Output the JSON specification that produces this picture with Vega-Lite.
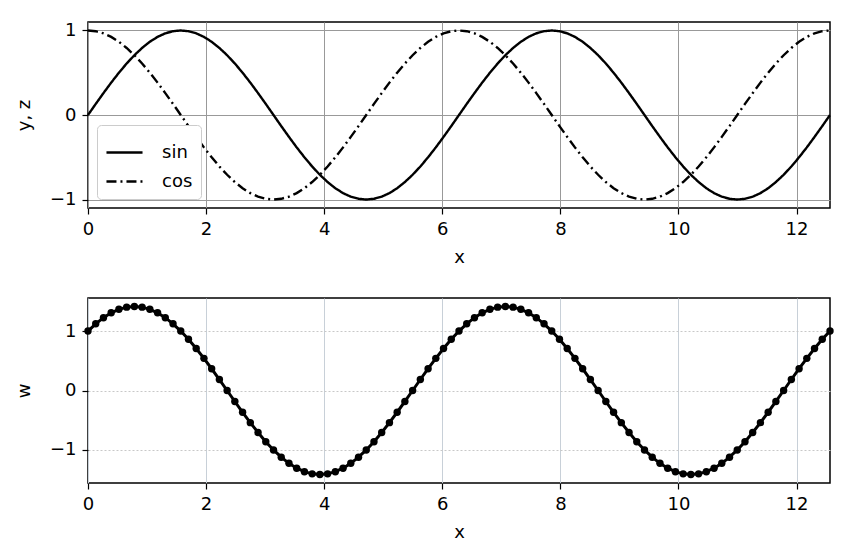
{
  "$schema": "https://vega.github.io/schema/vega-lite/v6.json",
  "description": "sin, cos and their sum over two periods",
  "background": "white",
  "padding": {"left": 14, "top": 20, "right": 5, "bottom": 5},
  "spacing": 30,
  "resolve": {"legend": {"strokeDash": "independent"}},
  "datasets": {
    "trig": [
      {"x": 0, "y": 0, "z": 1, "w": 1},
      {"x": 0.1309, "y": 0.131, "z": 0.991, "w": 1.122},
      {"x": 0.2618, "y": 0.259, "z": 0.966, "w": 1.225},
      {"x": 0.3927, "y": 0.383, "z": 0.924, "w": 1.307},
      {"x": 0.5236, "y": 0.5, "z": 0.866, "w": 1.366},
      {"x": 0.6545, "y": 0.609, "z": 0.793, "w": 1.402},
      {"x": 0.7854, "y": 0.707, "z": 0.707, "w": 1.414},
      {"x": 0.9163, "y": 0.793, "z": 0.609, "w": 1.402},
      {"x": 1.0472, "y": 0.866, "z": 0.5, "w": 1.366},
      {"x": 1.1781, "y": 0.924, "z": 0.383, "w": 1.307},
      {"x": 1.309, "y": 0.966, "z": 0.259, "w": 1.225},
      {"x": 1.4399, "y": 0.991, "z": 0.131, "w": 1.122},
      {"x": 1.5708, "y": 1, "z": 0, "w": 1},
      {"x": 1.7017, "y": 0.991, "z": -0.131, "w": 0.861},
      {"x": 1.8326, "y": 0.966, "z": -0.259, "w": 0.707},
      {"x": 1.9635, "y": 0.924, "z": -0.383, "w": 0.541},
      {"x": 2.0944, "y": 0.866, "z": -0.5, "w": 0.366},
      {"x": 2.2253, "y": 0.793, "z": -0.609, "w": 0.185},
      {"x": 2.3562, "y": 0.707, "z": -0.707, "w": 0},
      {"x": 2.4871, "y": 0.609, "z": -0.793, "w": -0.185},
      {"x": 2.618, "y": 0.5, "z": -0.866, "w": -0.366},
      {"x": 2.7489, "y": 0.383, "z": -0.924, "w": -0.541},
      {"x": 2.8798, "y": 0.259, "z": -0.966, "w": -0.707},
      {"x": 3.0107, "y": 0.131, "z": -0.991, "w": -0.861},
      {"x": 3.1416, "y": 0, "z": -1, "w": -1},
      {"x": 3.2725, "y": -0.131, "z": -0.991, "w": -1.122},
      {"x": 3.4034, "y": -0.259, "z": -0.966, "w": -1.225},
      {"x": 3.5343, "y": -0.383, "z": -0.924, "w": -1.307},
      {"x": 3.6652, "y": -0.5, "z": -0.866, "w": -1.366},
      {"x": 3.7961, "y": -0.609, "z": -0.793, "w": -1.402},
      {"x": 3.927, "y": -0.707, "z": -0.707, "w": -1.414},
      {"x": 4.0579, "y": -0.793, "z": -0.609, "w": -1.402},
      {"x": 4.1888, "y": -0.866, "z": -0.5, "w": -1.366},
      {"x": 4.3197, "y": -0.924, "z": -0.383, "w": -1.307},
      {"x": 4.4506, "y": -0.966, "z": -0.259, "w": -1.225},
      {"x": 4.5815, "y": -0.991, "z": -0.131, "w": -1.122},
      {"x": 4.7124, "y": -1, "z": 0, "w": -1},
      {"x": 4.8433, "y": -0.991, "z": 0.131, "w": -0.861},
      {"x": 4.9742, "y": -0.966, "z": 0.259, "w": -0.707},
      {"x": 5.1051, "y": -0.924, "z": 0.383, "w": -0.541},
      {"x": 5.236, "y": -0.866, "z": 0.5, "w": -0.366},
      {"x": 5.3669, "y": -0.793, "z": 0.609, "w": -0.185},
      {"x": 5.4978, "y": -0.707, "z": 0.707, "w": 0},
      {"x": 5.6287, "y": -0.609, "z": 0.793, "w": 0.185},
      {"x": 5.7596, "y": -0.5, "z": 0.866, "w": 0.366},
      {"x": 5.8905, "y": -0.383, "z": 0.924, "w": 0.541},
      {"x": 6.0214, "y": -0.259, "z": 0.966, "w": 0.707},
      {"x": 6.1523, "y": -0.131, "z": 0.991, "w": 0.861},
      {"x": 6.2832, "y": 0, "z": 1, "w": 1},
      {"x": 6.4141, "y": 0.131, "z": 0.991, "w": 1.122},
      {"x": 6.545, "y": 0.259, "z": 0.966, "w": 1.225},
      {"x": 6.6759, "y": 0.383, "z": 0.924, "w": 1.307},
      {"x": 6.8068, "y": 0.5, "z": 0.866, "w": 1.366},
      {"x": 6.9377, "y": 0.609, "z": 0.793, "w": 1.402},
      {"x": 7.0686, "y": 0.707, "z": 0.707, "w": 1.414},
      {"x": 7.1995, "y": 0.793, "z": 0.609, "w": 1.402},
      {"x": 7.3304, "y": 0.866, "z": 0.5, "w": 1.366},
      {"x": 7.4613, "y": 0.924, "z": 0.383, "w": 1.307},
      {"x": 7.5922, "y": 0.966, "z": 0.259, "w": 1.225},
      {"x": 7.7231, "y": 0.991, "z": 0.131, "w": 1.122},
      {"x": 7.854, "y": 1, "z": 0, "w": 1},
      {"x": 7.9849, "y": 0.991, "z": -0.131, "w": 0.861},
      {"x": 8.1158, "y": 0.966, "z": -0.259, "w": 0.707},
      {"x": 8.2467, "y": 0.924, "z": -0.383, "w": 0.541},
      {"x": 8.3776, "y": 0.866, "z": -0.5, "w": 0.366},
      {"x": 8.5085, "y": 0.793, "z": -0.609, "w": 0.185},
      {"x": 8.6394, "y": 0.707, "z": -0.707, "w": 0},
      {"x": 8.7703, "y": 0.609, "z": -0.793, "w": -0.185},
      {"x": 8.9012, "y": 0.5, "z": -0.866, "w": -0.366},
      {"x": 9.0321, "y": 0.383, "z": -0.924, "w": -0.541},
      {"x": 9.163, "y": 0.259, "z": -0.966, "w": -0.707},
      {"x": 9.2939, "y": 0.131, "z": -0.991, "w": -0.861},
      {"x": 9.4248, "y": 0, "z": -1, "w": -1},
      {"x": 9.5557, "y": -0.131, "z": -0.991, "w": -1.122},
      {"x": 9.6866, "y": -0.259, "z": -0.966, "w": -1.225},
      {"x": 9.8175, "y": -0.383, "z": -0.924, "w": -1.307},
      {"x": 9.9484, "y": -0.5, "z": -0.866, "w": -1.366},
      {"x": 10.0793, "y": -0.609, "z": -0.793, "w": -1.402},
      {"x": 10.2102, "y": -0.707, "z": -0.707, "w": -1.414},
      {"x": 10.3411, "y": -0.793, "z": -0.609, "w": -1.402},
      {"x": 10.472, "y": -0.866, "z": -0.5, "w": -1.366},
      {"x": 10.6029, "y": -0.924, "z": -0.383, "w": -1.307},
      {"x": 10.7338, "y": -0.966, "z": -0.259, "w": -1.225},
      {"x": 10.8647, "y": -0.991, "z": -0.131, "w": -1.122},
      {"x": 10.9956, "y": -1, "z": 0, "w": -1},
      {"x": 11.1265, "y": -0.991, "z": 0.131, "w": -0.861},
      {"x": 11.2574, "y": -0.966, "z": 0.259, "w": -0.707},
      {"x": 11.3883, "y": -0.924, "z": 0.383, "w": -0.541},
      {"x": 11.5192, "y": -0.866, "z": 0.5, "w": -0.366},
      {"x": 11.6501, "y": -0.793, "z": 0.609, "w": -0.185},
      {"x": 11.781, "y": -0.707, "z": 0.707, "w": 0},
      {"x": 11.9119, "y": -0.609, "z": 0.793, "w": 0.185},
      {"x": 12.0428, "y": -0.5, "z": 0.866, "w": 0.366},
      {"x": 12.1737, "y": -0.383, "z": 0.924, "w": 0.541},
      {"x": 12.3046, "y": -0.259, "z": 0.966, "w": 0.707},
      {"x": 12.4355, "y": -0.131, "z": 0.991, "w": 0.861},
      {"x": 12.5664, "y": 0, "z": 1, "w": 1}
    ]
  },
  "vconcat": [
    {
      "width": 742,
      "height": 186,
      "data": {"name": "trig"},
      "layer": [
        {
          "mark": {"type": "line", "color": "black", "strokeWidth": 2.4},
          "encoding": {
            "x": {"field": "x", "type": "quantitative", "scale": {"domain": [0, 12.5664], "nice": false}, "axis": {"values": [0, 2, 4, 6, 8, 10, 12], "format": "d", "title": "x"}},
            "y": {"field": "y", "type": "quantitative", "scale": {"domain": [-1.1, 1.1], "nice": false}, "axis": {"values": [-1, 0, 1], "format": "d", "title": "y, z"}},
            "strokeDash": {
              "datum": "sin",
              "type": "nominal",
              "scale": {"domain": ["sin", "cos"], "range": [[1, 0], [10, 4, 2, 4]]},
              "legend": {
                "title": null,
                "orient": "bottom-left",
                "offset": 9,
                "fillColor": "white",
                "strokeColor": "#cccccc",
                "cornerRadius": 4,
                "padding": 8,
                "symbolType": "stroke",
                "symbolSize": 1300,
                "symbolStrokeWidth": 2.4,
                "symbolStrokeColor": "black",
                "labelFontSize": 18,
                "labelFont": "DejaVu Sans",
                "labelColor": "black",
                "labelOffset": 18,
                "rowPadding": 0
              }
            }
          }
        },
        {
          "mark": {"type": "line", "color": "black", "strokeWidth": 2.4},
          "encoding": {
            "x": {"field": "x", "type": "quantitative", "title": "x"},
            "y": {"field": "z", "type": "quantitative", "title": "y, z"},
            "strokeDash": {"datum": "cos", "type": "nominal"}
          }
        }
      ]
    },
    {
      "width": 742,
      "height": 185,
      "data": {"name": "trig"},
      "mark": {"type": "line", "color": "black", "strokeWidth": 3, "point": {"filled": true, "size": 55, "color": "black"}},
      "encoding": {
        "x": {"field": "x", "type": "quantitative", "scale": {"domain": [0, 12.5664], "nice": false}, "axis": {"values": [0, 2, 4, 6, 8, 10, 12], "format": "d", "title": "x", "gridColor": "#c8d0d8"}},
        "y": {"field": "w", "type": "quantitative", "scale": {"domain": [-1.556, 1.556], "nice": false}, "axis": {"values": [-1, 0, 1], "format": "d", "title": "w", "gridColor": "#c8c8c8", "gridDash": [2, 2]}}
      }
    }
  ],
  "config": {
    "view": {"stroke": "black", "strokeWidth": 1.5},
    "axis": {
      "domain": false,
      "grid": true,
      "gridColor": "#999999",
      "gridWidth": 1,
      "ticks": true,
      "tickColor": "black",
      "tickSize": 6,
      "tickWidth": 1.2,
      "labelFont": "DejaVu Sans",
      "labelFontSize": 18,
      "labelColor": "black",
      "labelPadding": 6,
      "labelExpr": "replace(datum.label, '-', '\u2212')",
      "titleFont": "DejaVu Sans",
      "titleFontSize": 18,
      "titleFontWeight": "normal",
      "titleColor": "black",
      "titlePadding": 10
    },
    "axisX": {"labelFlush": false},
    "axisY": {"titlePadding": 16}
  }
}
